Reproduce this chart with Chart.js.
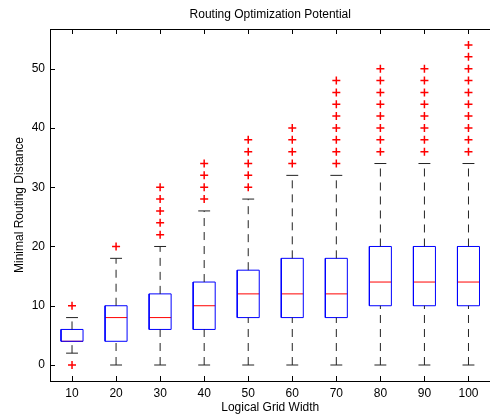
<!DOCTYPE html>
<html>
<head>
<meta charset="utf-8">
<script src="https://cdn.jsdelivr.net/npm/chart.js@4"></script>
<style>
  html, body { margin: 0; padding: 0; background: #fff; overflow: hidden; }
  #wrap { width: 496px; height: 415px; }
</style>
</head>
<body>
<div id="wrap"><canvas id="routing-chart" width="496" height="415"></canvas></div>
<script>
const categories = ["10", "20", "30", "40", "50", "60", "70", "80", "90", "100"];
const q1 = [4, 4, 6, 6, 8, 8, 8, 10, 10, 10];
const medians = [4, 8, 8, 10, 12, 12, 12, 14, 14, 14];
const q3 = [6, 10, 12, 14, 16, 18, 18, 20, 20, 20];
const whiskerLow = [2, 0, 0, 0, 0, 0, 0, 0, 0, 0];
const whiskerHigh = [8, 18, 20, 26, 28, 32, 32, 34, 34, 34];
const outliers = [
  [0, 10],
  [20],
  [22, 24, 26, 28, 30],
  [28, 30, 32, 34],
  [30, 32, 34, 36, 38],
  [34, 36, 38, 40],
  [34, 36, 38, 40, 42, 44, 46, 48],
  [36, 38, 40, 42, 44, 46, 48, 50],
  [36, 38, 40, 42, 44, 46, 48, 50],
  [36, 38, 40, 42, 44, 46, 48, 50, 52, 54]
];
const yTicks = [0, 10, 20, 30, 40, 50];

const FONT = "'Liberation Sans', Arial, Helvetica, sans-serif";
const boxHalf = 0.25;
const capHalf = 0.135;

// build line segments for each box, separated by gaps
const gap = i => ({ x: i, y: null });
const boxPts = [], medianPts = [], whiskerPts = [], capPts = [], outlierPts = [];

categories.forEach((c, i) => {
  boxPts.push(
    { x: i - boxHalf, y: q1[i] }, { x: i + boxHalf, y: q1[i] },
    { x: i + boxHalf, y: q3[i] }, { x: i - boxHalf, y: q3[i] },
    { x: i - boxHalf, y: q1[i] }, gap(i)
  );
  medianPts.push({ x: i - boxHalf, y: medians[i] }, { x: i + boxHalf, y: medians[i] }, gap(i));
  whiskerPts.push(
    { x: i, y: q3[i] }, { x: i, y: whiskerHigh[i] }, gap(i),
    { x: i, y: whiskerLow[i] }, { x: i, y: q1[i] }, gap(i)
  );
  capPts.push(
    { x: i - capHalf, y: whiskerHigh[i] }, { x: i + capHalf, y: whiskerHigh[i] }, gap(i),
    { x: i - capHalf, y: whiskerLow[i] }, { x: i + capHalf, y: whiskerLow[i] }, gap(i)
  );
  outliers[i].forEach(v => outlierPts.push({ x: i, y: v }));
});

const lineSet = (data, color, dash) => ({
  type: "scatter",
  data: data,
  showLine: true,
  borderColor: color,
  borderWidth: 1,
  borderDash: dash || [],
  pointRadius: 0,
  spanGaps: false,
  tension: 0,
  fill: false
});

// inside tick marks and the top frame line, MATLAB style
const insideTicks = {
  id: "insideTicks",
  afterDraw(chart) {
    const { ctx, chartArea: a, scales: { x, y } } = chart;
    ctx.save();
    ctx.strokeStyle = "#000";
    ctx.lineWidth = 1;
    ctx.beginPath();
    ctx.moveTo(a.left, a.top + 0.5);
    ctx.lineTo(a.right, a.top + 0.5);
    x.ticks.forEach(t => {
      const px = Math.round(x.getPixelForValue(t.value)) + 0.5;
      ctx.moveTo(px, a.bottom);
      ctx.lineTo(px, a.bottom - 5);
      ctx.moveTo(px, a.top);
      ctx.lineTo(px, a.top + 5);
    });
    y.ticks.forEach(t => {
      const py = Math.round(y.getPixelForValue(t.value)) + 0.5;
      ctx.moveTo(a.left, py);
      ctx.lineTo(a.left + 5, py);
    });
    ctx.stroke();
    ctx.restore();
  }
};

new Chart(document.getElementById("routing-chart"), {
  type: "scatter",
  data: {
    datasets: [
      lineSet(whiskerPts, "#222", [8, 6]),
      lineSet(capPts, "#222"),
      lineSet(boxPts, "#0000ff"),
      lineSet(medianPts, "#ff0000"),
      {
        type: "scatter",
        data: outlierPts,
        pointStyle: "cross",
        pointRadius: 4,
        borderColor: "#ff0000",
        borderWidth: 1.5,
        showLine: false
      }
    ]
  },
  options: {
    responsive: false,
    animation: false,
    devicePixelRatio: 1,
    events: [],
    layout: { padding: 0 },
    plugins: {
      legend: { display: false },
      tooltip: { enabled: false },
      title: {
        display: true,
        fullSize: false,
        text: "Routing Optimization Potential",
        color: "#000",
        font: { family: FONT, size: 12, weight: "normal" },
        padding: { top: 7, bottom: 7.6 }
      }
    },
    scales: {
      x: {
        type: "linear",
        min: -0.5,
        max: 9.5,
        afterBuildTicks: s => { s.ticks = categories.map((c, i) => ({ value: i })); },
        afterFit: s => { s.height = 34; },
        ticks: {
          callback: v => categories[v],
          color: "#000",
          font: { family: FONT, size: 12 },
          padding: 5,
          maxRotation: 0,
          autoSkip: false
        },
        grid: { display: false, drawTicks: false },
        border: { display: true, color: "#000", width: 1 },
        title: {
          display: true,
          text: "Logical Grid Width",
          color: "#000",
          font: { family: FONT, size: 12 },
          padding: { top: 0, bottom: 0.5 }
        }
      },
      y: {
        type: "linear",
        min: -2.7,
        max: 56.7,
        afterBuildTicks: s => { s.ticks = yTicks.map(v => ({ value: v })); },
        afterFit: s => { s.width = 50; },
        ticks: {
          color: "#000",
          font: { family: FONT, size: 12 },
          padding: 5
        },
        grid: { display: false, drawTicks: false },
        border: { display: true, color: "#000", width: 1 },
        title: {
          display: true,
          text: "Minimal Routing Distance",
          color: "#000",
          font: { family: FONT, size: 12 },
          padding: { top: 12, bottom: 0 }
        }
      }
    }
  },
  plugins: [insideTicks]
});
</script>
</body>
</html>
